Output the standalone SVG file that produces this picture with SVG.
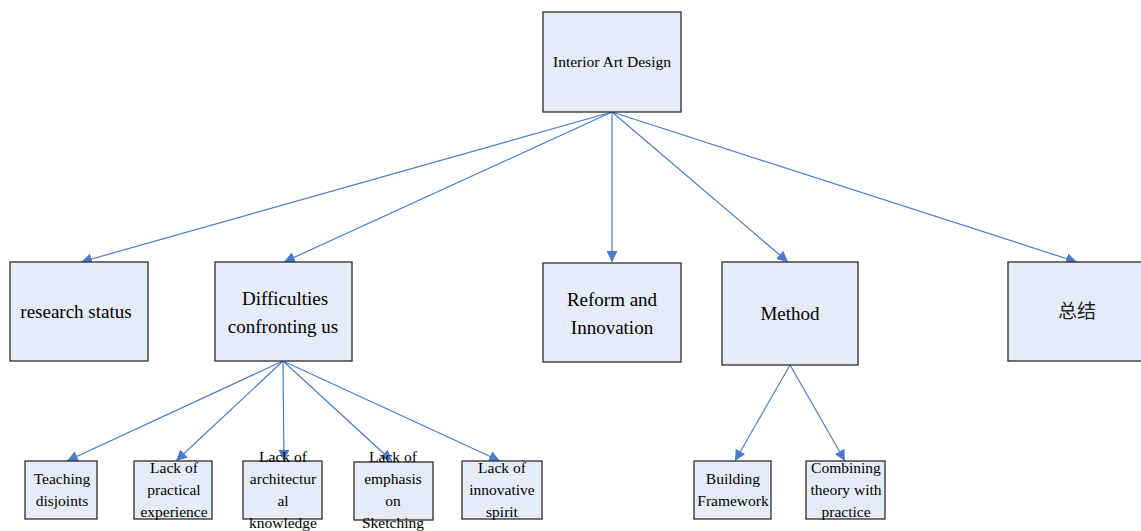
<svg xmlns="http://www.w3.org/2000/svg" width="1141" height="531" viewBox="0 0 1141 531">
<style>
.box{fill:#e6ecf7;stroke:#2b2b2b;stroke-width:1.3}
.t{font-family:"Liberation Serif","Times New Roman",serif;fill:#000;text-anchor:middle}
.s14{font-size:15.5px}
.s19{font-size:19px}
.s15{font-size:15.5px}
.cjk{font-family:"Noto Sans CJK SC",sans-serif;font-size:19px;fill:#222;text-anchor:middle}
.c{stroke:#4a7bc8;stroke-width:1.2;fill:none;marker-end:url(#ah)}
</style>
<defs>
<marker id="ah" viewBox="0 0 10 10" refX="10" refY="5" markerWidth="11" markerHeight="11" markerUnits="userSpaceOnUse" orient="auto">
<path d="M0,0 L10,5 L0,10 z" fill="#4a7bc8"/>
</marker>
</defs>
<g id="connectors">
<line class="c" x1="612" y1="112" x2="81" y2="262"/>
<line class="c" x1="612" y1="112" x2="284" y2="262"/>
<line class="c" x1="612" y1="112" x2="612" y2="262"/>
<line class="c" x1="612" y1="112" x2="788" y2="262"/>
<line class="c" x1="612" y1="112" x2="1077" y2="262"/>
<line class="c" x1="283" y1="361" x2="67" y2="461"/>
<line class="c" x1="283" y1="361" x2="176" y2="461"/>
<line class="c" x1="283" y1="361" x2="284" y2="461"/>
<line class="c" x1="283" y1="361" x2="392" y2="461"/>
<line class="c" x1="283" y1="361" x2="500" y2="461"/>
<line class="c" x1="790" y1="365" x2="735" y2="461"/>
<line class="c" x1="790" y1="365" x2="845" y2="461"/>
</g>
<g id="n-root"><rect class="box" x="543" y="12" width="138" height="100"/><text class="t s14" x="612" y="67">Interior Art Design</text></g>
<g id="n-research"><rect class="box" x="10" y="262" width="138" height="99"/><text class="t s19" x="76" y="318">research status</text></g>
<g id="n-difficulties"><rect class="box" x="215" y="262" width="137" height="99"/><text class="t s19" x="285" y="305">Difficulties</text><text class="t s19" x="283" y="333">confronting us</text></g>
<g id="n-reform"><rect class="box" x="543" y="263" width="138" height="99"/><text class="t s19" x="612" y="306">Reform and</text><text class="t s19" x="612" y="334">Innovation</text></g>
<g id="n-method"><rect class="box" x="722" y="262" width="136" height="103"/><text class="t s19" x="790" y="320">Method</text></g>
<g id="n-summary"><rect class="box" x="1008" y="262" width="140" height="99"/><text class="cjk" x="1077" y="318">总结</text></g>
<g id="n-teaching"><rect class="box" x="25" y="461" width="72" height="58"/><text class="t s15" x="62" y="484">Teaching</text><text class="t s15" x="62" y="506">disjoints</text></g>
<g id="n-practical"><rect class="box" x="134" y="461" width="78" height="58"/><text class="t s15" x="174" y="473">Lack of</text><text class="t s15" x="174" y="495">practical</text><text class="t s15" x="174" y="517">experience</text></g>
<g id="n-architectural"><rect class="box" x="243" y="461" width="79" height="58"/><text class="t s15" x="283" y="462">Lack of</text><text class="t s15" x="283" y="484">architectur</text><text class="t s15" x="283" y="506">al</text><text class="t s15" x="283" y="528">knowledge</text></g>
<g id="n-emphasis"><rect class="box" x="354" y="462" width="79" height="58"/><text class="t s15" x="393" y="462">Lack of</text><text class="t s15" x="393" y="484">emphasis</text><text class="t s15" x="393" y="506">on</text><text class="t s15" x="393" y="528">Sketching</text></g>
<g id="n-innovative"><rect class="box" x="462" y="461" width="80" height="58"/><text class="t s15" x="502" y="473">Lack of</text><text class="t s15" x="502" y="495">innovative</text><text class="t s15" x="502" y="517">spirit</text></g>
<g id="n-building"><rect class="box" x="694" y="461" width="77" height="58"/><text class="t s15" x="733" y="484">Building</text><text class="t s15" x="733" y="506">Framework</text></g>
<g id="n-combining"><rect class="box" x="806" y="461" width="79" height="58"/><text class="t s15" x="846" y="473">Combining</text><text class="t s15" x="846" y="495">theory with</text><text class="t s15" x="846" y="517">practice</text></g>
</svg>
